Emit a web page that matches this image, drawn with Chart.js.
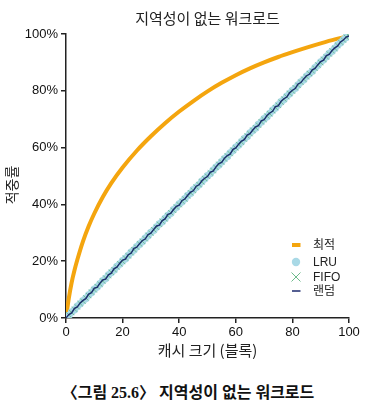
<!DOCTYPE html>
<html>
<head>
<meta charset="utf-8">
<script src="https://cdn.jsdelivr.net/npm/chart.js@4.4.0/dist/chart.umd.min.js"></script>
<style>
  body { margin: 0; background: #fff; }
  #wrap { position: relative; width: 390px; height: 370px; }
  #caption {
    width: 376px; padding-right: 14px; height: 30px; line-height: 30px; margin-top: 8px;
    text-align: center; font-family: "Liberation Serif", "Noto Sans CJK KR", serif;
    font-weight: bold; font-size: 16px; color: #111;
  }
</style>
</head>
<body>
<div id="wrap"><canvas id="lineChart"></canvas></div>
<div id="caption">〈그림 25.6〉 지역성이 없는 워크로드</div>
<script>
// 캐시 크기 (블록)
var sizes = [0,1,2,3,4,5,6,7,8,9,10,11,12,13,14,15,16,17,18,19,20,21,22,23,24,25,26,27,28,29,30,31,32,33,34,35,36,37,38,39,40,41,42,43,44,45,46,47,48,49,50,
  51,52,53,54,55,56,57,58,59,60,61,62,63,64,65,66,67,68,69,70,71,72,73,74,75,76,77,78,79,80,81,82,83,84,85,86,87,88,89,90,91,92,93,94,95,96,97,98,99,100]

// 최적 (OPT) - 그림에서 읽은 값
var optSizes = [0,1,2,3,4,6,8,10,13,16,20,25,30,35,40,45,50,55,60,65,70,75,80,85,90,95,100]
var optHits = [0,7,12.5,16.8,20.5,27,32.3,36.8,42.6,47.5,53,58.9,64,68.6,72.7,76.4,79.8,82.8,85.5,87.9,90,91.9,93.6,95.2,96.7,98.1,99.3]

// LRU / FIFO / 랜덤 적중률 (%)
var lruHits = [0,0.9,2.1,2.9,4.1,5,6.1,6.9,8.1,9,10.1,10.9,12,13.1,13.9,15.1,16,16.9,18.1,19,20.1,20.9,22,23.1,23.9,25.1,26,26.9,28.1,29,30.1,
  30.9,32,33.1,33.9,35,36.1,36.9,38.1,39,40.1,40.9,42,43.1,43.9,45.1,46,46.9,48.1,49,50.1,50.9,52,53.1,53.9,55,56.1,56.9,58.1,59,60.1,
  60.9,62,63.1,63.9,65.1,66,66.9,68.1,69,70.1,70.9,72,73.1,73.9,75,76.1,76.9,78.1,79,80.1,80.9,82,83.1,83.9,85.1,86,86.9,88.1,89,90.1,
  90.9,92,93.1,93.9,95,96.1,96.9,98,98.8,99.3]
var fifoHits = [0,1.1,1.9,3.1,3.9,5.1,5.9,7.1,7.9,9.1,9.9,11.1,11.9,13,14.1,14.9,16.1,17,17.9,19.1,19.9,21.1,21.9,23,24.1,24.9,26.1,27,27.9,29.1,29.9,
  31.1,31.9,33,34.1,34.9,36,37.1,37.9,39.1,39.9,41.1,41.9,43,44.1,44.9,46.1,47,47.9,49.1,49.9,51.1,51.9,53,54.1,54.9,56,57.1,57.9,59.1,59.9,
  61.1,61.9,63,64.1,64.9,66.1,67,67.9,69.1,69.9,71.1,71.9,73,74.1,74.9,76,77.1,77.9,79.1,79.9,81.1,81.9,83,84.1,84.9,86.1,87,87.9,89.1,89.9,
  91.1,91.9,93,94.1,94.9,96,97.1,97.9,98.9,99.3]
var randHits = [0,1.2,1.8,3.4,3.9,5.3,6.2,6.8,8.4,8.9,10.5,10.8,12.3,13.4,13.7,15.2,15.8,17.4,17.9,19.3,20.4,20.7,22.3,22.8,24.5,24.9,26.2,27.3,27.8,29.4,29.9,
  31.2,32.4,32.7,34.3,34.9,36.5,36.8,38.2,39.3,39.7,41.4,41.9,43.2,44.3,44.8,46.4,46.9,48.3,49.2,49.8,51.4,51.7,53.2,54.4,54.8,56.3,57.2,57.7,59.4,59.9,
  61.2,62.3,62.8,64.4,64.9,66.2,67.3,67.7,69.4,69.8,71.3,72.2,72.8,74.4,74.7,76.3,77.2,77.8,79.3,80.2,80.8,82.4,82.9,84.2,85.3,85.8,87.4,87.9,89.2,90.3,
  90.8,92.4,92.8,94.2,95.1,95.8,97.2,97.9,98.9,99.3]

var yTicks = [0,20,40,60,80,100]
var seriesNames = ["최적", "LRU", "FIFO", "랜덤"]

var COL_OPT = "#f4a50e"
var COL_LRU = "#a9d9e6"
var COL_FIFO = "#6dbb8c"
var COL_RAND = "#1c2a6e"

function toPoints(xs, ys) {
  var out = []
  for (var i = 0; i < xs.length; i++) out.push({ x: xs[i], y: ys[i] })
  return out
}

// 범례 + 세로 축 제목을 직접 그림
var extras = {
  id: "extras",
  afterDraw: function (chart) {
    var c = chart.ctx
    c.save()
    // y축 제목
    c.translate(12, 185)
    c.rotate(-Math.PI / 2)
    c.font = "14px 'Noto Sans CJK KR'"
    c.fillStyle = "#222"
    c.textAlign = "center"
    c.textBaseline = "middle"
    c.fillText("적중률", 0, 0)
    c.restore()

    c.save()
    var mx = 296, tx = 313
    var ys = [245, 262, 277, 291]
    // 최적
    c.strokeStyle = COL_OPT; c.lineWidth = 4
    c.beginPath(); c.moveTo(292, ys[0]); c.lineTo(300.5, ys[0]); c.stroke()
    // LRU
    c.fillStyle = COL_LRU
    c.beginPath(); c.arc(mx, ys[1], 4.2, 0, Math.PI * 2); c.fill()
    // FIFO
    c.strokeStyle = COL_FIFO; c.lineWidth = 1
    c.beginPath()
    c.moveTo(mx - 4.5, ys[2] - 4.5); c.lineTo(mx + 4.5, ys[2] + 4.5)
    c.moveTo(mx + 4.5, ys[2] - 4.5); c.lineTo(mx - 4.5, ys[2] + 4.5)
    c.stroke()
    // 랜덤
    c.strokeStyle = COL_RAND; c.lineWidth = 1.5
    c.beginPath(); c.moveTo(292, ys[3]); c.lineTo(300.5, ys[3]); c.stroke()

    c.fillStyle = "#222"
    c.textBaseline = "middle"
    c.textAlign = "left"
    c.font = "12px 'Liberation Sans', 'Noto Sans CJK KR'"
    for (var i = 0; i < seriesNames.length; i++) c.fillText(seriesNames[i], tx, ys[i] + 0.5)
    c.restore()
  }
}

var ctx = document.getElementById("lineChart")
var chart_line = new Chart(ctx, {
  type: "line",
  plugins: [extras],
  data: {
    datasets: [
      {
        label: seriesNames[0],
        data: toPoints(optSizes, optHits),
        borderColor: COL_OPT,
        borderWidth: 4,
        pointRadius: 0,
        cubicInterpolationMode: "monotone",
        order: 4,
      },
      {
        label: seriesNames[1],
        data: toPoints(sizes, lruHits),
        showLine: false,
        pointStyle: "circle",
        pointRadius: 3.8,
        pointBackgroundColor: COL_LRU,
        pointBorderWidth: 0,
        order: 3,
      },
      {
        label: seriesNames[2],
        data: toPoints(sizes, fifoHits),
        showLine: false,
        pointStyle: "crossRot",
        pointRadius: 3.6,
        pointBorderColor: COL_FIFO,
        pointBorderWidth: 0.9,
        order: 2,
      },
      {
        label: seriesNames[3],
        data: toPoints(sizes, randHits),
        borderColor: COL_RAND,
        borderWidth: 1.4,
        pointRadius: 0,
        tension: 0,
        order: 1,
      },
    ],
  },
  options: {
    responsive: true,
    maintainAspectRatio: false,
    animation: false,
    layout: { padding: { left: 4, right: 41, top: 0, bottom: 8 } },
    scales: {
      x: {
        type: "linear",
        min: 0,
        max: 100,
        afterFit: function (s) { s.height = 44 },
        border: { color: "#222", width: 1.5 },
        grid: { drawOnChartArea: false, drawTicks: true, tickLength: 5, color: "#222", lineWidth: 1.5 },
        ticks: {
          stepSize: 20,
          padding: 2,
          color: "#111",
          font: { family: "'Liberation Sans', Arial", size: 13 },
        },
        title: {
          display: true,
          text: "캐시 크기 (블록)",
          color: "#222",
          font: { family: "'Noto Sans CJK KR'", size: 15 },
          padding: { top: 2, bottom: 3 },
        },
      },
      y: {
        min: 0,
        max: 100,
        afterFit: function (s) { s.width = 62 },
        afterBuildTicks: function (s) { s.ticks = yTicks.map(function (v) { return { value: v } }) },
        border: { color: "#222", width: 1.5 },
        grid: { drawOnChartArea: false, drawTicks: true, tickLength: 5, color: "#222", lineWidth: 1.5 },
        ticks: {
          padding: 3,
          color: "#111",
          font: { family: "'Liberation Sans', Arial", size: 13 },
          callback: function (v) { return v + "%" },
        },
      },
    },
    plugins: {
      legend: { display: false },
      tooltip: { enabled: false },
      title: {
        display: true,
        fullSize: false,
        text: "지역성이 없는 워크로드",
        color: "#222",
        font: { family: "'Noto Sans CJK KR'", size: 15, weight: "normal" },
        padding: { top: 9, bottom: 7 },
      },
    },
  },
})
</script>
</body>
</html>
